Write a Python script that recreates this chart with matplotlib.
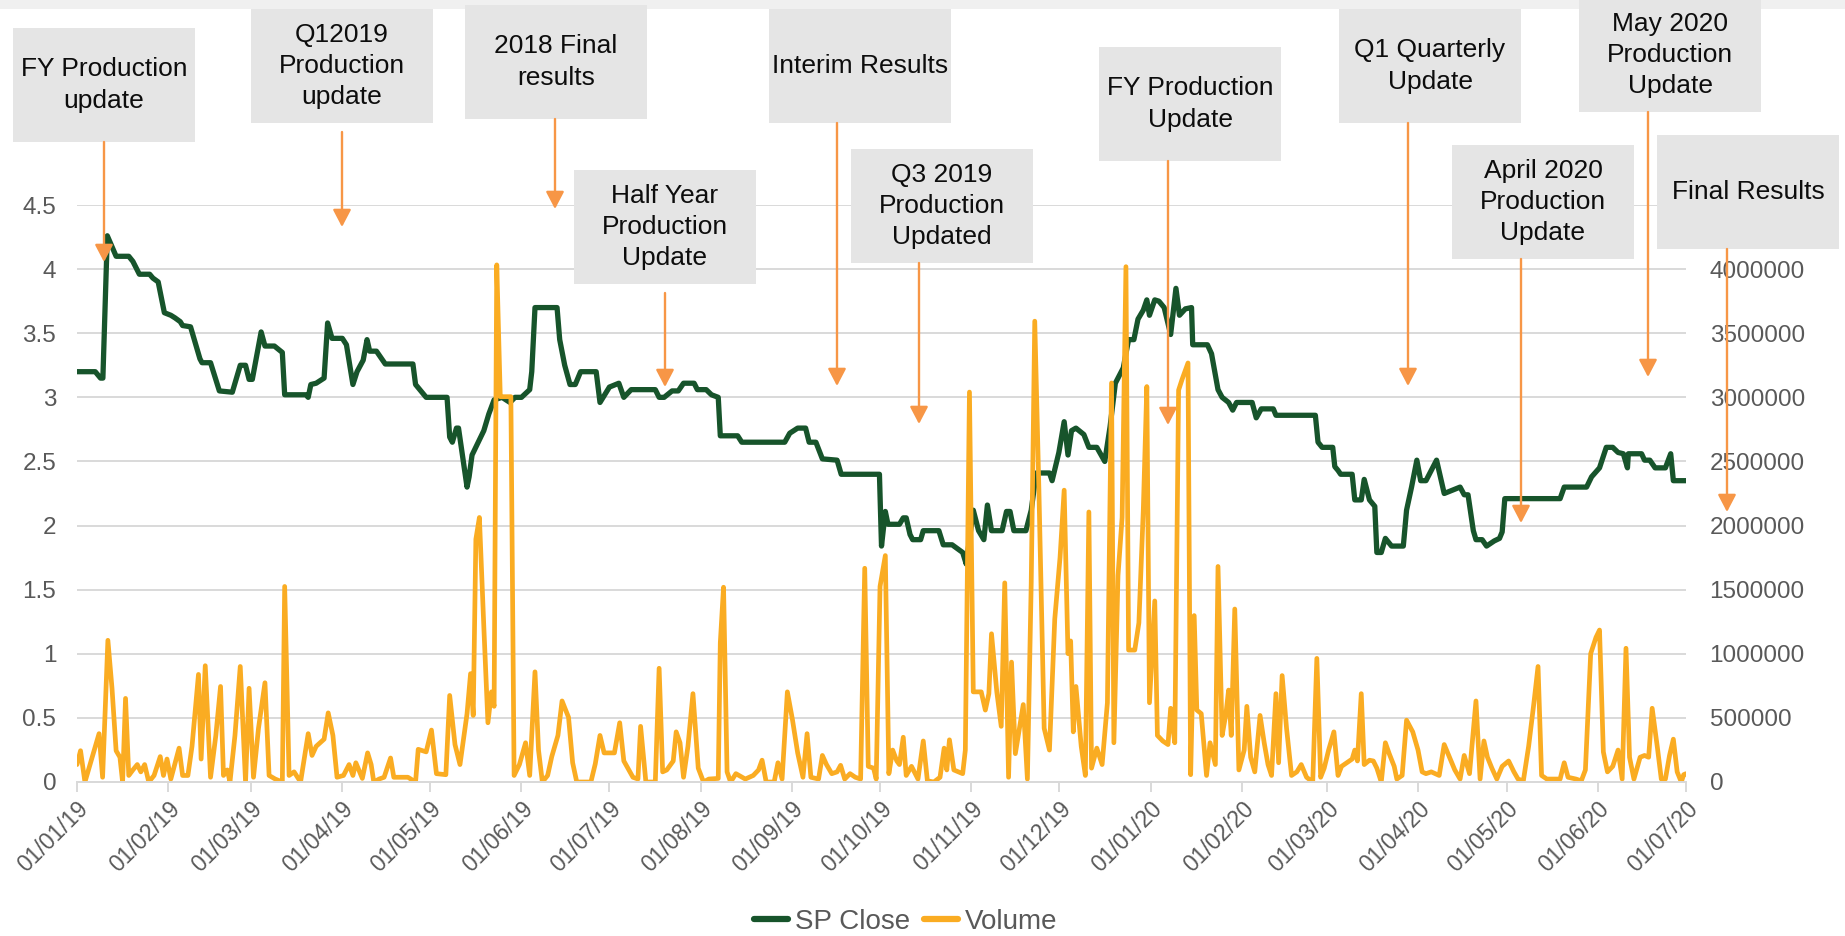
import matplotlib
matplotlib.use("Agg")
import matplotlib.pyplot as plt
import matplotlib.dates as mdates
from matplotlib.lines import Line2D
from matplotlib.patches import Rectangle
from matplotlib.ticker import FuncFormatter, MultipleLocator
import pandas as pd

plt.rcParams['font.family'] = ['Liberation Sans', 'DejaVu Sans']

START = pd.Timestamp('2019-01-01')
END = pd.Timestamp('2020-07-01')

# ---------------- data ----------------
# SP Close: days since 2019-01-01 and closing price
sp_day = [0.0, 6.2, 8.0, 8.8, 10.3, 13.3, 17.6, 19.0, 21.2, 24.7,
          25.8, 27.6, 29.7, 31.9, 33.3, 35.1, 35.9, 38.6, 41.8, 42.5,
          45.4, 48.4, 52.8, 55.5, 57.3, 58.5, 59.6, 62.6, 63.9, 67.1,
          69.8, 70.6, 77.8, 78.6, 79.5, 81.3, 84.0, 85.2, 86.7, 90.2,
          91.6, 93.8, 95.2, 97.3, 98.6, 99.5, 101.8, 104.8, 114.2, 115.1,
          118.7, 125.8, 126.7, 127.6, 129.0, 129.7, 132.6, 133.3, 134.3, 138.3,
          140.0, 141.8, 144.5, 147.2, 148.9, 151.1, 153.9, 154.6, 155.7, 163.2,
          164.1, 165.8, 167.6, 169.4, 171.2, 176.5, 177.8, 181.0, 184.2, 185.9,
          188.4, 196.6, 197.9, 199.6, 202.3, 204.4, 206.2, 209.8, 210.9, 213.9,
          215.7, 218.0, 218.7, 224.6, 226.0, 240.6, 242.3, 245.0, 247.7, 248.9,
          251.2, 253.4, 258.4, 259.8, 272.8, 273.5, 274.8, 275.7, 279.6, 280.9,
          281.9, 283.2, 284.1, 286.8, 287.7, 293.0, 294.5, 297.5, 299.3, 301.1,
          302.3, 304.7, 306.5, 308.3, 309.5, 310.9, 314.5, 316.0, 317.2, 318.5,
          322.6, 324.4, 326.1, 330.6, 331.5, 333.8, 335.6, 336.9, 338.1, 339.6,
          342.3, 344.0, 346.7, 349.4, 351.2, 353.0, 355.7, 357.5, 359.3, 360.7,
          362.5, 363.7, 364.6, 366.4, 367.8, 369.6, 371.8, 373.6, 374.8, 376.8,
          378.9, 379.3, 384.3, 385.7, 387.9, 389.3, 391.5, 392.9, 394.2, 399.5,
          400.9, 402.6, 406.7, 407.6, 421.0, 421.9, 423.3, 426.9, 427.6, 428.7,
          429.6, 433.5, 434.4, 436.6, 437.6, 439.4, 441.2, 441.9, 443.4, 444.8,
          446.9, 450.9, 452.0, 453.7, 455.5, 456.8, 458.6, 462.2, 464.8, 468.1,
          470.2, 471.6, 472.9, 474.7, 475.6, 477.7, 479.2, 481.8, 483.6, 484.5,
          485.4, 504.2, 505.6, 513.2, 514.9, 517.6, 519.9, 522.1, 523.9, 525.7,
          527.1, 527.4, 531.9, 532.9, 534.7, 536.5, 540.0, 541.8, 542.7, 547.0]
sp_close = [3.20, 3.20, 3.15, 3.15, 4.26, 4.10, 4.10, 4.06, 3.96, 3.96,
            3.93, 3.90, 3.66, 3.64, 3.62, 3.59, 3.56, 3.55, 3.30, 3.27,
            3.27, 3.05, 3.04, 3.25, 3.25, 3.14, 3.14, 3.51, 3.40, 3.40,
            3.35, 3.02, 3.02, 3.00, 3.10, 3.11, 3.15, 3.58, 3.46, 3.46,
            3.41, 3.10, 3.20, 3.29, 3.45, 3.36, 3.36, 3.26, 3.26, 3.10,
            3.00, 3.00, 2.69, 2.65, 2.76, 2.76, 2.30, 2.38, 2.55, 2.74,
            2.87, 2.98, 3.00, 2.96, 3.00, 3.00, 3.06, 3.20, 3.70, 3.70,
            3.45, 3.25, 3.10, 3.10, 3.20, 3.20, 2.96, 3.08, 3.11, 3.00,
            3.06, 3.06, 3.00, 3.00, 3.05, 3.05, 3.11, 3.11, 3.06, 3.06,
            3.02, 3.00, 2.70, 2.70, 2.65, 2.65, 2.72, 2.76, 2.76, 2.65,
            2.65, 2.52, 2.51, 2.40, 2.40, 1.84, 2.11, 2.01, 2.01, 2.06,
            2.06, 1.93, 1.89, 1.89, 1.96, 1.96, 1.85, 1.85, 1.82, 1.79,
            1.70, 2.12, 1.96, 1.89, 2.16, 1.96, 1.96, 2.11, 2.11, 1.96,
            1.96, 2.12, 2.41, 2.41, 2.35, 2.57, 2.81, 2.55, 2.74, 2.76,
            2.71, 2.61, 2.61, 2.50, 2.77, 3.11, 3.23, 3.45, 3.45, 3.61,
            3.68, 3.76, 3.64, 3.76, 3.75, 3.70, 3.49, 3.85, 3.64, 3.69,
            3.70, 3.41, 3.41, 3.34, 3.06, 3.00, 2.96, 2.90, 2.96, 2.96,
            2.84, 2.91, 2.91, 2.86, 2.86, 2.65, 2.61, 2.61, 2.46, 2.43,
            2.40, 2.40, 2.20, 2.20, 2.36, 2.20, 2.15, 1.79, 1.79, 1.90,
            1.84, 1.84, 2.12, 2.30, 2.51, 2.35, 2.35, 2.51, 2.25, 2.28,
            2.30, 2.24, 2.24, 1.96, 1.89, 1.89, 1.84, 1.88, 1.90, 1.95,
            2.21, 2.21, 2.30, 2.30, 2.38, 2.45, 2.61, 2.61, 2.57, 2.56,
            2.45, 2.56, 2.56, 2.51, 2.51, 2.45, 2.45, 2.56, 2.35, 2.35]

# Volume: days since 2019-01-01 and traded volume (millions of shares)
vol_day = [0.0, 1.2, 2.7, 4.8, 7.5, 8.7, 10.5, 11.9, 13.3, 14.6,
           15.5, 16.5, 17.6, 19.0, 20.5, 21.7, 23.0, 24.4, 26.2, 28.3,
           29.4, 30.6, 31.9, 34.7, 35.9, 37.7, 39.1, 41.3, 42.2, 43.6,
           45.4, 47.2, 48.8, 49.8, 51.1, 52.0, 53.7, 55.5, 57.3, 58.5,
           60.0, 61.7, 63.9, 65.3, 67.4, 69.8, 70.6, 72.1, 73.8, 76.0,
           78.6, 79.9, 81.3, 84.0, 85.4, 87.0, 88.4, 90.6, 92.5, 93.8,
           94.8, 97.0, 98.8, 100.0, 100.9, 102.7, 104.4, 106.6, 107.7, 112.5,
           115.1, 116.0, 118.7, 120.5, 122.2, 125.4, 126.7, 128.5, 130.2, 132.6,
           133.8, 134.7, 135.6, 136.8, 138.3, 139.7, 140.9, 141.8, 142.7, 143.9,
           147.5, 148.6, 150.4, 152.5, 153.9, 155.7, 156.9, 158.2, 160.0, 161.4,
           163.5, 164.9, 167.1, 168.5, 169.9, 172.1, 174.7, 176.2, 177.8, 179.2,
           182.7, 184.5, 185.9, 189.0, 190.7, 191.6, 193.4, 196.6, 197.9, 199.1,
           200.5, 202.7, 203.7, 205.0, 206.2, 207.7, 209.4, 211.2, 213.0, 214.8,
           218.0, 218.7, 219.8, 221.0, 222.2, 224.0, 227.2, 229.9, 231.7, 232.9,
           234.3, 237.0, 238.3, 239.7, 241.5, 243.2, 245.0, 246.8, 248.2, 249.5,
           252.1, 253.4, 254.8, 256.6, 258.4, 259.6, 261.0, 262.8, 264.6, 266.4,
           267.8, 269.0, 270.8, 271.7, 273.0, 274.8, 276.0, 277.3, 278.7, 279.6,
           280.9, 281.9, 283.7, 285.9, 287.7, 289.1, 291.3, 293.4, 294.8, 295.7,
           296.6, 298.1, 301.1, 302.0, 303.4, 304.7, 307.4, 308.8, 310.0, 310.9,
           312.7, 314.2, 315.4, 316.7, 317.7, 319.0, 321.7, 323.1, 324.4, 325.6,
           327.0, 328.8, 330.6, 332.4, 334.2, 335.6, 336.9, 337.8, 338.7, 339.6,
           341.4, 342.8, 344.0, 344.9, 346.7, 348.5, 350.3, 351.7, 352.5, 353.9,
           355.3, 356.6, 357.5, 359.6, 361.0, 362.5, 363.7, 364.6, 366.4, 367.3,
           369.1, 370.9, 371.8, 373.2, 374.5, 375.7, 377.7, 378.6, 379.8, 380.7,
           382.2, 384.0, 385.2, 387.0, 387.9, 389.3, 390.6, 391.5, 392.4, 393.6,
           395.0, 396.8, 397.7, 399.0, 400.4, 402.2, 403.6, 404.9, 406.1, 407.6,
           408.5, 409.7, 411.2, 412.9, 414.7, 416.2, 418.0, 420.1, 421.5, 422.8,
           424.0, 425.5, 427.3, 428.7, 429.9, 431.7, 433.5, 434.4, 435.3, 436.6,
           437.6, 439.4, 440.7, 441.9, 443.4, 444.8, 446.1, 447.8, 448.7, 450.5,
           452.0, 454.1, 455.9, 457.3, 458.6, 460.4, 463.1, 464.8, 466.6, 468.4,
           470.2, 471.6, 473.4, 475.6, 477.0, 478.3, 479.5, 481.0, 482.7, 484.5,
           486.7, 488.5, 489.9, 491.7, 493.5, 495.3, 496.7, 497.9, 499.7, 504.2,
           505.6, 506.9, 509.6, 511.4, 512.8, 514.6, 516.4, 517.6, 518.9, 520.3,
           522.1, 523.9, 525.3, 526.6, 527.8, 529.3, 531.4, 532.9, 534.3, 535.5,
           537.3, 538.6, 540.0, 541.4, 542.7, 544.0, 545.4, 546.2, 547.0]
vol_m = [0.136, 0.244, 0.0, 0.164, 0.377, 0.037, 1.105, 0.731, 0.244, 0.193,
         0.0, 0.652, 0.051, 0.094, 0.136, 0.079, 0.136, 0.0, 0.051, 0.198,
         0.051, 0.179, 0.023, 0.264, 0.051, 0.051, 0.278, 0.839, 0.179, 0.907,
         0.037, 0.363, 0.745, 0.051, 0.094, 0.0, 0.363, 0.901, 0.0, 0.731,
         0.037, 0.419, 0.774, 0.051, 0.023, 0.0, 1.525, 0.051, 0.079, 0.0,
         0.377, 0.207, 0.278, 0.334, 0.539, 0.363, 0.037, 0.051, 0.136, 0.051,
         0.150, 0.028, 0.227, 0.136, 0.0, 0.023, 0.037, 0.187, 0.037, 0.037,
         0.0, 0.255, 0.235, 0.405, 0.065, 0.057, 0.675, 0.292, 0.136, 0.533,
         0.845, 0.519, 1.893, 2.063, 1.213, 0.462, 0.703, 0.590, 4.033, 3.005,
         3.005, 0.051, 0.136, 0.306, 0.051, 0.859, 0.249, 0.0, 0.051, 0.198,
         0.363, 0.632, 0.505, 0.150, 0.0, 0.0, 0.0, 0.142, 0.363, 0.227,
         0.227, 0.462, 0.164, 0.037, 0.023, 0.434, 0.0, 0.0, 0.887, 0.079,
         0.094, 0.164, 0.391, 0.306, 0.037, 0.278, 0.689, 0.108, 0.0, 0.023,
         0.028, 1.086, 1.519, 0.079, 0.0, 0.065, 0.023, 0.051, 0.094, 0.170,
         0.0, 0.0, 0.150, 0.023, 0.703, 0.490, 0.227, 0.037, 0.377, 0.037,
         0.023, 0.207, 0.136, 0.065, 0.079, 0.130, 0.023, 0.065, 0.037, 0.023,
         1.667, 0.122, 0.108, 0.023, 1.525, 1.766, 0.065, 0.249, 0.164, 0.136,
         0.349, 0.051, 0.122, 0.023, 0.320, 0.009, 0.0, 0.037, 0.264, 0.094,
         0.329, 0.094, 0.065, 0.249, 3.041, 0.703, 0.703, 0.561, 0.689, 1.156,
         0.703, 0.434, 1.553, 0.037, 0.935, 0.221, 0.604, 0.023, 1.553, 3.594,
         2.290, 0.419, 0.249, 1.270, 1.752, 2.276, 1.001, 1.100, 0.391, 0.745,
         0.278, 0.051, 2.106, 0.108, 0.264, 0.136, 0.618, 3.112, 0.306, 1.610,
         2.063, 4.019, 1.029, 1.029, 1.241, 2.120, 3.084, 0.618, 1.412, 0.363,
         0.320, 0.292, 0.575, 0.306, 3.056, 3.141, 3.268, 0.057, 1.298, 0.561,
         0.533, 0.051, 0.306, 0.136, 1.681, 0.363, 0.533, 0.717, 0.363, 1.349,
         0.094, 0.249, 0.590, 0.193, 0.079, 0.519, 0.306, 0.136, 0.051, 0.689,
         0.150, 0.830, 0.419, 0.051, 0.079, 0.136, 0.037, 0.0, 0.964, 0.037,
         0.108, 0.249, 0.391, 0.051, 0.122, 0.150, 0.179, 0.249, 0.164, 0.689,
         0.136, 0.170, 0.164, 0.108, 0.0, 0.306, 0.221, 0.122, 0.023, 0.051,
         0.482, 0.391, 0.249, 0.079, 0.065, 0.079, 0.051, 0.292, 0.193, 0.094,
         0.023, 0.207, 0.065, 0.632, 0.023, 0.320, 0.193, 0.108, 0.023, 0.122,
         0.164, 0.079, 0.023, 0.009, 0.278, 0.618, 0.901, 0.051, 0.023, 0.023,
         0.150, 0.037, 0.023, 0.009, 0.094, 1.001, 1.128, 1.185, 0.235, 0.079,
         0.122, 0.249, 0.023, 1.043, 0.193, 0.023, 0.193, 0.207, 0.193, 0.575,
         0.264, 0.023, 0.023, 0.207, 0.334, 0.079, 0.0, 0.057, 0.065]

legend_labels = ['SP Close', 'Volume']

events = ['FY Production\nupdate', 'Q12019\nProduction\nupdate', '2018 Final\nresults',
          'Half Year\nProduction\nUpdate', 'Interim Results', 'Q3 2019\nProduction\nUpdated',
          'FY Production\nUpdate', 'Q1 Quarterly\nUpdate', 'May 2020\nProduction\nUpdate',
          'April 2020\nProduction\nUpdate', 'Final Results']

# ---------------- layout (figure pixels, origin top-left) ----------------
W, H = 1845, 936
# box left, box top, arrow x, arrow start y, arrow tip y
ev_layout = [(13, 28, 104, 142, 262),
             (251, 9, 342, 132, 227),
             (465, 5, 555, 119, 209),
             (574, 170, 665, 293, 387),
             (769, 9, 837, 123, 386),
             (851, 149, 919, 263, 424),
             (1099, 47, 1168, 161, 425),
             (1339, 9, 1408, 123, 386),
             (1579, -2, 1648, 112, 377),
             (1452, 145, 1521, 259, 523),
             (1657, 135, 1727, 249, 512)]
BOX_W, BOX_H = 182, 114

GREEN = '#17542B'
ORANGE = '#FAAC22'
ARROW = '#F79646'
GRID = '#D9D9D9'
TXT = '#595959'

fig = plt.figure(figsize=(W / 100, H / 100), dpi=100)
fig.patch.set_facecolor('white')
ax_l, ax_r = 77 / W, 1686 / W
ax_b, ax_t = (H - 782) / H, (H - 205) / H
ax = fig.add_axes([ax_l, ax_b, ax_r - ax_l, ax_t - ax_b])
ax2 = ax.twinx()

sp_dates = [START + pd.Timedelta(days=d) for d in sp_day]
vol_dates = [START + pd.Timedelta(days=d) for d in vol_day]
vol = [v * 1e6 for v in vol_m]

ax.plot(sp_dates, sp_close, color=GREEN, lw=3.8, solid_joinstyle='round', solid_capstyle='round')
ax2.plot(vol_dates, vol, color=ORANGE, lw=3.4, solid_joinstyle='round', solid_capstyle='round')

ax.set_xlim(START, END)
ax.set_ylim(0, 4.5)
ax2.set_ylim(0, 4.5e6)
ax.yaxis.set_major_locator(MultipleLocator(0.5))
ax2.yaxis.set_major_locator(MultipleLocator(500000))
ax.yaxis.set_major_formatter(FuncFormatter(lambda v, p: f'{v:g}'))
# the top right label (4500000) is hidden behind the "Final Results" box in the original
ax2.yaxis.set_major_formatter(FuncFormatter(lambda v, p: f'{int(round(v))}' if v < 4.25e6 else ''))

ax.grid(axis='y', color=GRID, lw=1.4)
ax.set_axisbelow(True)
for a in (ax, ax2):
    for s in ('top', 'left', 'right'):
        a.spines[s].set_visible(False)
    a.spines['bottom'].set_color(GRID)
    a.spines['bottom'].set_linewidth(1.4)
ax.tick_params(axis='y', length=0, labelsize=17.5, labelcolor=TXT, pad=15)
ax2.tick_params(axis='y', length=0, labelsize=17.5, labelcolor=TXT, pad=17)

ax.xaxis.set_major_locator(mdates.MonthLocator())
ax.xaxis.set_major_formatter(mdates.DateFormatter('%d/%m/%y'))
ax.tick_params(axis='x', length=7, width=1.4, color=GRID, labelsize=16.5, labelcolor=TXT, pad=4)
for lab in ax.get_xticklabels():
    lab.set_rotation(45)
    lab.set_ha('right')
    lab.set_va('top')
    lab.set_rotation_mode('anchor')

handles = [Line2D([], [], color=GREEN, lw=4.5, solid_capstyle='round'),
           Line2D([], [], color=ORANGE, lw=4.5, solid_capstyle='round')]
leg = fig.legend(handles, legend_labels, loc='center', bbox_to_anchor=(906 / W, (H - 922) / H),
                 ncol=2, frameon=False, fontsize=20, handlelength=1.22, handletextpad=0.25,
                 columnspacing=0.5, labelcolor=TXT, borderpad=0.2)

# overlay for annotations (pixel coordinates, y downward)
ov = fig.add_axes([0, 0, 1, 1], zorder=10)
ov.set_xlim(0, W)
ov.set_ylim(H, 0)
ov.axis('off')
ov.patch.set_alpha(0)
ov.add_patch(Rectangle((0, 0), W, 9, color='#F0F0F0', lw=0, zorder=1))

for text, (bx, by, axx, ay0, ay1) in zip(events, ev_layout):
    ov.add_patch(Rectangle((bx, by), BOX_W, BOX_H, facecolor='#E5E5E5', edgecolor='none', zorder=2))
    ov.text(bx + BOX_W / 2, by + BOX_H / 2, text, ha='center', va='center', fontsize=19,
            color='#0D0D0D', linespacing=1.38, zorder=3)
    ov.annotate('', xy=(axx, ay1), xytext=(axx, ay0),
                arrowprops=dict(arrowstyle='-|>,head_length=1.05,head_width=0.55',
                                color=ARROW, lw=1.7, shrinkA=0, shrinkB=0, mutation_scale=10),
                zorder=4)

fig.savefig('out.png', dpi=100, facecolor='white')
